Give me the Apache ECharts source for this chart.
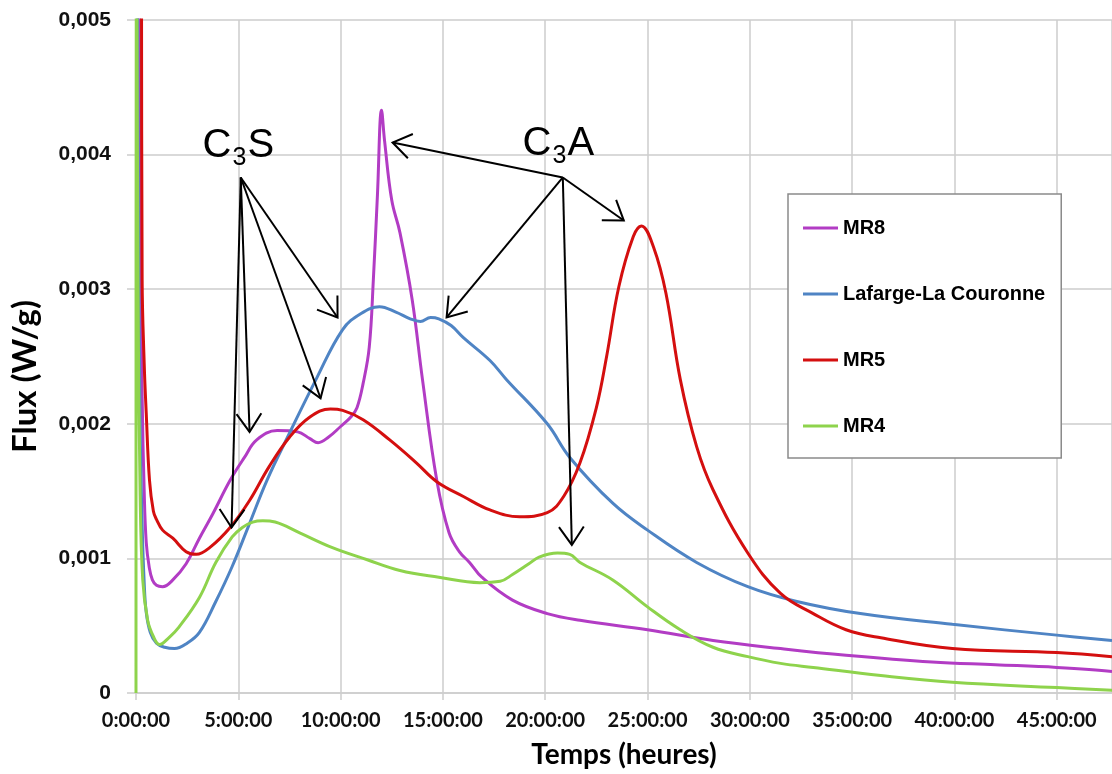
<!DOCTYPE html>
<html>
<head>
<meta charset="utf-8">
<title>Flux thermique – ciments</title>
<script src="https://cdn.jsdelivr.net/npm/echarts@6/dist/echarts.min.js"></script>
<style>
  html, body { margin: 0; padding: 0; background: #ffffff; }
  #chart { width: 1112px; height: 774px; }
</style>
</head>
<body>
<div id="chart"></div>
<script>
// Heat flow curves (time in hours, flux in mW/g; converted to W/g below)
const mr8Hours = [0.12, 0.2, 0.3, 0.4, 0.5, 0.65, 0.8, 1.0, 1.3, 1.8, 2.45, 3.1, 3.75, 4.6, 5.3, 5.9, 6.9, 7.9, 8.5, 8.9, 9.4, 10.0, 10.5, 10.8, 11.1, 11.4, 11.6, 11.8, 12.0, 12.15, 12.5, 12.9, 13.5, 14.0, 14.7, 15.3, 15.8, 16.3, 16.9, 18.4, 20.1, 21.7, 25.0, 28.2, 31.5, 34.7, 38.9, 42.0, 45.0, 47.7];
const mr8Flux = [6.5, 3.6, 2.2, 1.5, 1.12, 0.93, 0.84, 0.8, 0.79, 0.84, 0.96, 1.15, 1.33, 1.58, 1.75, 1.88, 1.95, 1.94, 1.89, 1.86, 1.9, 1.98, 2.05, 2.12, 2.3, 2.57, 3.07, 3.7, 4.33, 4.1, 3.66, 3.42, 2.92, 2.33, 1.58, 1.19, 1.05, 0.97, 0.86, 0.69, 0.59, 0.54, 0.47, 0.39, 0.33, 0.28, 0.23, 0.21, 0.19, 0.16];

const lafargeHours = [0.05, 0.12, 0.2, 0.3, 0.4, 0.5, 0.7, 1.0, 1.4, 1.88, 2.5, 3.1, 3.9, 4.7, 5.5, 6.4, 7.5, 8.8, 10.1, 11.0, 11.9, 12.7, 13.4, 13.9, 14.4, 14.8, 15.4, 16.0, 17.3, 18.1, 20.1, 21.2, 23.3, 25.0, 27.4, 29.9, 32.3, 35.4, 39.9, 45.0, 47.7];
const lafargeFlux = [6.5, 3.5, 2.0, 1.25, 0.82, 0.6, 0.45, 0.37, 0.34, 0.33, 0.37, 0.45, 0.68, 0.94, 1.24, 1.58, 1.93, 2.33, 2.70, 2.82, 2.87, 2.83, 2.78, 2.76, 2.79, 2.78, 2.73, 2.64, 2.47, 2.33, 2.0, 1.75, 1.41, 1.21, 0.97, 0.79, 0.68, 0.59, 0.51, 0.43, 0.39];

const mr5Hours = [0.26, 0.3, 0.4, 0.5, 0.66, 0.85, 1.0, 1.3, 1.8, 2.45, 2.95, 3.6, 4.6, 5.55, 6.5, 7.5, 8.5, 9.5, 10.1, 11.1, 12.4, 13.7, 14.7, 16.0, 17.3, 18.75, 20.1, 20.9, 21.7, 22.5, 23.0, 23.6, 24.3, 24.7, 25.3, 25.9, 26.6, 27.4, 28.2, 29.9, 31.5, 33.1, 34.7, 36.4, 39.9, 45.0, 47.7];
const mr5Flux = [6.5, 3.07, 2.45, 2.08, 1.58, 1.35, 1.29, 1.21, 1.15, 1.05, 1.03, 1.08, 1.23, 1.43, 1.68, 1.90, 2.05, 2.11, 2.10, 2.03, 1.88, 1.71, 1.57, 1.46, 1.36, 1.31, 1.34, 1.46, 1.71, 2.12, 2.5, 3.02, 3.39, 3.47, 3.31, 2.97, 2.33, 1.83, 1.51, 1.04, 0.74, 0.59, 0.47, 0.41, 0.33, 0.30, 0.27];

const mr4Hours = [0, 0.02, 0.1, 0.2, 0.33, 0.57, 0.85, 1.15, 1.6, 2.1, 3.1, 3.9, 4.7, 5.2, 5.7, 6.2, 6.8, 8.0, 9.6, 11.3, 12.9, 14.8, 16.8, 17.8, 18.4, 19.2, 19.7, 20.6, 21.2, 21.7, 23.3, 25.0, 26.6, 28.2, 29.9, 31.5, 33.1, 36.4, 39.9, 45.0, 47.7];
const mr4Flux = [0, 6.5, 3.0, 1.5, 0.84, 0.54, 0.42, 0.36, 0.41, 0.49, 0.71, 0.97, 1.16, 1.23, 1.27, 1.28, 1.27, 1.19, 1.08, 0.99, 0.91, 0.86, 0.82, 0.83, 0.88, 0.96, 1.01, 1.04, 1.03, 0.97, 0.84, 0.64, 0.47, 0.34, 0.27, 0.22, 0.19, 0.13, 0.08, 0.04, 0.02];

const seriesNames = ['MR8', 'Lafarge-La Couronne', 'MR5', 'MR4'];
const seriesColors = ['#B23CC4', '#4F84C4', '#D40F0F', '#8ED34C'];

// Axis ticks
const hourTicks = [0, 5, 10, 15, 20, 25, 30, 35, 40, 45];
const fluxTicks = [0, 0.001, 0.002, 0.003, 0.004, 0.005];

// Peak annotations: [fromHour, fromFlux(mW/g), toHour, toFlux(mW/g)]
const c3sArrows = [
  [5.12, 3.83, 4.67, 1.23],
  [5.12, 3.83, 5.55, 1.94],
  [5.12, 3.83, 9.02, 2.19],
  [5.12, 3.83, 9.85, 2.79]
];
const c3aArrows = [
  [20.86, 3.83, 12.54, 4.09],
  [20.86, 3.83, 15.18, 2.79],
  [20.86, 3.83, 21.30, 1.10],
  [20.86, 3.83, 23.84, 3.51]
];
// Label anchors [hour, flux(mW/g), phase letter]
const phaseLabels = [
  [5.06, 4.07, 'S'],
  [20.7, 4.08, 'A']
];

const toW = v => v / 1000;
const pairs = (hours, flux) => hours.map((h, i) => [h, toW(flux[i])]);
const curves = [
  pairs(mr8Hours, mr8Flux),
  pairs(lafargeHours, lafargeFlux),
  pairs(mr5Hours, mr5Flux),
  pairs(mr4Hours, mr4Flux)
];

const arrowData = c3sArrows.concat(c3aArrows).map(a => [a[0], toW(a[1]), a[2], toW(a[3])]);
const labelData = phaseLabels.map(l => [l[0], toW(l[1]), l[2]]);

const gridColor = '#cdcdcd';
const chart = echarts.init(document.getElementById('chart'), null, { renderer: 'canvas' });

const lineSeries = seriesNames.map((name, i) => ({
  name: name,
  type: 'line',
  data: curves[i],
  showSymbol: false,
  smooth: 0.4,
  clip: true,
  color: seriesColors[i],
  lineStyle: { width: 3, color: seriesColors[i] },
  z: 2 + i
}));

function renderArrow(params, api) {
  const p0 = api.coord([api.value(0), api.value(1)]);
  const p1 = api.coord([api.value(2), api.value(3)]);
  const ang = Math.atan2(p1[1] - p0[1], p1[0] - p0[0]);
  const len = 22, spread = 0.6;
  const a1 = [p1[0] - len * Math.cos(ang - spread), p1[1] - len * Math.sin(ang - spread)];
  const a2 = [p1[0] - len * Math.cos(ang + spread), p1[1] - len * Math.sin(ang + spread)];
  const st = { stroke: '#000', lineWidth: 2, fill: null };
  return {
    type: 'group',
    children: [
      { type: 'line', shape: { x1: p0[0], y1: p0[1], x2: p1[0], y2: p1[1] }, style: st },
      { type: 'polyline', shape: { points: [a1, p1, a2] }, style: st }
    ]
  };
}

function renderPhaseLabel(params, api) {
  const p = api.coord([api.value(0), api.value(1)]);
  const letter = labelData[params.dataIndex][2];
  const big = { fontFamily: 'Liberation Sans, Arial, sans-serif', fontSize: 40, fill: '#000', verticalAlign: 'middle', align: 'left' };
  const small = { fontFamily: 'Liberation Sans, Arial, sans-serif', fontSize: 25, fill: '#000', verticalAlign: 'middle', align: 'left' };
  return {
    type: 'group',
    children: [
      { type: 'text', x: p[0] - 37, y: p[1] + 0.5, style: Object.assign({ text: 'C' }, big) },
      { type: 'text', x: p[0] - 7, y: p[1] + 12.5, style: Object.assign({ text: '3' }, small) },
      { type: 'text', x: p[0] + 8, y: p[1] + 0.5, style: Object.assign({ text: letter }, big) }
    ]
  };
}

const option = {
  backgroundColor: '#ffffff',
  animation: false,
  grid: { left: 136, top: 20, right: 0, bottom: 81, containLabel: false },
  legend: {
    data: seriesNames,
    orient: 'vertical',
    left: 788,
    top: 194,
    icon: 'rect',
    itemWidth: 35,
    itemHeight: 3,
    itemGap: 42,
    padding: [22, 16, 20, 15],
    borderColor: '#8a8a8a',
    borderWidth: 1.5,
    backgroundColor: '#ffffff',
    textStyle: {
      fontFamily: 'Liberation Sans, Arial, sans-serif',
      fontWeight: 'bold',
      fontSize: 20,
      lineHeight: 24,
      color: '#000'
    }
  },
  xAxis: {
    type: 'value',
    min: 0,
    max: 47.7,
    interval: 5,
    name: 'Temps (heures)',
    nameLocation: 'middle',
    nameGap: 48,
    nameTextStyle: { fontFamily: 'Lato, sans-serif', fontWeight: 'bold', fontSize: 28, color: '#000' },
    axisLine: { show: true, lineStyle: { color: gridColor, width: 1.5 } },
    axisTick: { show: true, length: 7, inside: false, lineStyle: { color: gridColor, width: 1.5 } },
    splitLine: { show: true, lineStyle: { color: gridColor, width: 1.5 } },
    axisLabel: {
      showMaxLabel: false,
      margin: 18,
      fontFamily: 'Lato, sans-serif',
      fontWeight: 'bold',
      fontSize: 20,
      color: '#111',
      formatter: v => hourTicks.indexOf(Math.round(v * 100) / 100) >= 0 ? v + ':00:00' : ''
    }
  },
  yAxis: {
    type: 'value',
    min: 0,
    max: 0.005,
    interval: 0.001,
    name: 'Flux (W/g)',
    nameLocation: 'middle',
    nameRotate: 90,
    nameGap: 94,
    nameTextStyle: { fontFamily: 'Lato, sans-serif', fontWeight: 'bold', fontSize: 33, color: '#000', padding: [0, 40, 0, 0] },
    axisLine: { show: true, lineStyle: { color: gridColor, width: 1.5 } },
    axisTick: { show: true, length: 9, lineStyle: { color: gridColor, width: 1.5 } },
    splitLine: { show: true, lineStyle: { color: gridColor, width: 1.5 } },
    axisLabel: {
      margin: 25,
      fontFamily: 'Liberation Sans, Arial, sans-serif',
      fontWeight: 'bold',
      fontSize: 21,
      color: '#111',
      formatter: v => {
        const t = fluxTicks.find(f => Math.abs(f - v) < 1e-9);
        if (t === undefined) return '';
        return t === 0 ? '0' : t.toFixed(3).replace('.', ',');
      }
    }
  },
  series: lineSeries.concat([
    {
      name: 'flèches',
      type: 'custom',
      renderItem: renderArrow,
      data: arrowData,
      encode: { x: [0, 2], y: [1, 3] },
      clip: false,
      silent: true,
      z: 10
    },
    {
      name: 'phases',
      type: 'custom',
      renderItem: renderPhaseLabel,
      data: labelData.map(l => [l[0], l[1]]),
      encode: { x: 0, y: 1 },
      clip: false,
      silent: true,
      z: 10
    }
  ])
};

chart.setOption(option);
</script>
</body>
</html>
